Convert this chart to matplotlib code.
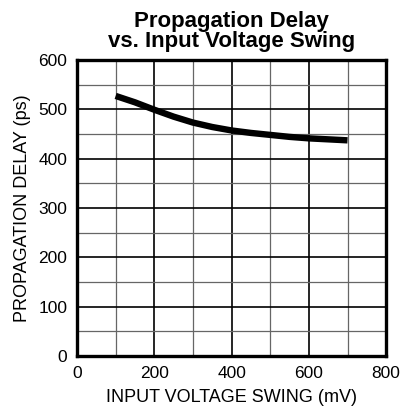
import numpy as np
import matplotlib
matplotlib.use('Agg')
import matplotlib.pyplot as plt
from matplotlib.ticker import MultipleLocator

plt.rcParams['font.family'] = ['Liberation Sans', 'DejaVu Sans']

# Data
swing_mv = [100, 150, 200, 250, 300, 350, 400, 450, 500, 550, 600, 650, 700]
delay_ps = [527, 514, 499, 485, 473, 464, 457, 452, 448, 444, 441, 439, 437]

x_ticks = [0, 200, 400, 600, 800]
y_ticks = [0, 100, 200, 300, 400, 500, 600]

fig = plt.figure(figsize=(4.01, 4.13), dpi=100)
ax = fig.add_axes([0.192, 0.138, 0.771, 0.717])

ax.plot(swing_mv, delay_ps, color='black', linewidth=4.6, solid_capstyle='butt')

ax.set_xlim(0, 800)
ax.set_ylim(0, 600)
ax.set_xticks(x_ticks)
ax.set_yticks(y_ticks)
ax.xaxis.set_minor_locator(MultipleLocator(100))
ax.yaxis.set_minor_locator(MultipleLocator(50))
ax.grid(which='major', color='black', linewidth=1.2)
ax.grid(which='minor', color='#666666', linewidth=0.9)
ax.set_axisbelow(True)
ax.tick_params(which='both', length=0, labelsize=12.5, pad=7)
for s in ax.spines.values():
    s.set_linewidth(2.4)

ax.set_xlabel('INPUT VOLTAGE SWING (mV)', fontsize=13, labelpad=6)
ax.set_ylabel('PROPAGATION DELAY (ps)', fontsize=13, labelpad=5)
ax.set_title('Propagation Delay\nvs. Input Voltage Swing', fontsize=16,
             fontweight='bold', linespacing=0.95, pad=9)

fig.savefig('out.png', dpi=100)
